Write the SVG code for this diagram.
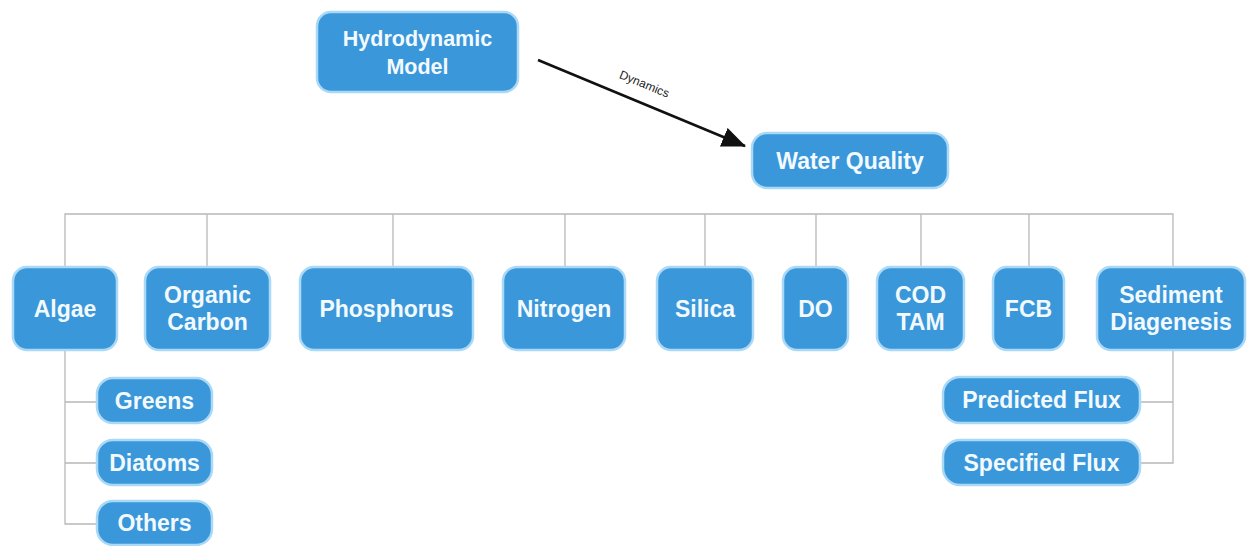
<svg xmlns="http://www.w3.org/2000/svg" width="1248" height="546" viewBox="0 0 1248 546">
  <style>
    .box { fill: #3a97d9; stroke: #a9d9f7; stroke-width: 2.5; }
    .lbl { fill: #f3faff; font-family: "Liberation Sans", Arial, sans-serif; font-size: 23px; font-weight: bold; text-anchor: middle; }
    .sm { font-size: 21.5px; }
    .conn { fill: none; stroke: #b8b8b8; stroke-width: 1.3; }
    .edge { fill: none; stroke: #111; stroke-width: 2.6; }
    .elbl { fill: #222; font-family: "Liberation Sans", Arial, sans-serif; font-size: 12px; text-anchor: middle; }
  </style>
  <defs>
    <marker id="arrow" viewBox="0 0 24 20" refX="23" refY="10" markerWidth="24" markerHeight="20" markerUnits="userSpaceOnUse" orient="auto">
      <path d="M0,0 L24,10 L0,20 z" fill="#111"/>
    </marker>
  </defs>
  <rect width="1248" height="546" fill="#ffffff"/>

  <g id="connectors">
    <path class="conn" d="M65,267 V214 H1173 V267"/>
    <path class="conn" d="M207,214 V267 M393,214 V267 M565,214 V267 M705,214 V267 M816,214 V267 M921,214 V267 M1029,214 V267"/>
    <path class="conn" d="M65,350 V524 H97 M65,402 H97 M65,463 H97"/>
    <path class="conn" d="M1173,350 V463 H1140 M1173,402 H1140"/>
    <line class="edge" x1="538" y1="60" x2="745" y2="146" marker-end="url(#arrow)"/>
    <text class="elbl" x="644" y="88" transform="rotate(22.5 644 85)">Dynamics</text>
  </g>

  <g id="hydrodynamic-model">
    <rect class="box" x="317" y="12" width="201" height="80" rx="14"/>
    <text class="lbl sm" x="417.5" y="46">Hydrodynamic</text>
    <text class="lbl sm" x="417.5" y="74">Model</text>
  </g>
  <g id="water-quality">
    <rect class="box" x="752" y="133" width="196" height="55" rx="15"/>
    <text class="lbl" x="850" y="169">Water Quality</text>
  </g>

  <g id="algae">
    <rect class="box" x="13" y="267" width="104" height="83" rx="14"/>
    <text class="lbl" x="65" y="317">Algae</text>
  </g>
  <g id="organic-carbon">
    <rect class="box" x="145" y="267" width="125" height="83" rx="14"/>
    <text class="lbl" x="207.5" y="303">Organic</text>
    <text class="lbl" x="207.5" y="330">Carbon</text>
  </g>
  <g id="phosphorus">
    <rect class="box" x="300" y="267" width="173" height="83" rx="14"/>
    <text class="lbl" x="386.5" y="317">Phosphorus</text>
  </g>
  <g id="nitrogen">
    <rect class="box" x="503" y="267" width="122" height="83" rx="14"/>
    <text class="lbl" x="564" y="317">Nitrogen</text>
  </g>
  <g id="silica">
    <rect class="box" x="657" y="267" width="96" height="83" rx="14"/>
    <text class="lbl" x="705" y="317">Silica</text>
  </g>
  <g id="do">
    <rect class="box" x="783" y="267" width="65" height="83" rx="14"/>
    <text class="lbl" x="815.5" y="317">DO</text>
  </g>
  <g id="cod-tam">
    <rect class="box" x="877" y="267" width="87" height="83" rx="14"/>
    <text class="lbl" x="920.5" y="303">COD</text>
    <text class="lbl" x="920.5" y="330">TAM</text>
  </g>
  <g id="fcb">
    <rect class="box" x="993" y="267" width="71" height="83" rx="14"/>
    <text class="lbl" x="1028.5" y="317">FCB</text>
  </g>
  <g id="sediment-diagenesis">
    <rect class="box" x="1097" y="267" width="148" height="83" rx="14"/>
    <text class="lbl" x="1171" y="303">Sediment</text>
    <text class="lbl" x="1171" y="330">Diagenesis</text>
  </g>

  <g id="greens">
    <rect class="box" x="97" y="378" width="115" height="45" rx="16"/>
    <text class="lbl" x="154.5" y="409">Greens</text>
  </g>
  <g id="diatoms">
    <rect class="box" x="97" y="440" width="115" height="45" rx="16"/>
    <text class="lbl" x="154.5" y="471">Diatoms</text>
  </g>
  <g id="others">
    <rect class="box" x="97" y="501" width="115" height="44" rx="16"/>
    <text class="lbl" x="154.5" y="531">Others</text>
  </g>
  <g id="predicted-flux">
    <rect class="box" x="943" y="377" width="197" height="46" rx="17"/>
    <text class="lbl" x="1041.5" y="408">Predicted Flux</text>
  </g>
  <g id="specified-flux">
    <rect class="box" x="943" y="440" width="197" height="45" rx="17"/>
    <text class="lbl" x="1041.5" y="471">Specified Flux</text>
  </g>
</svg>
